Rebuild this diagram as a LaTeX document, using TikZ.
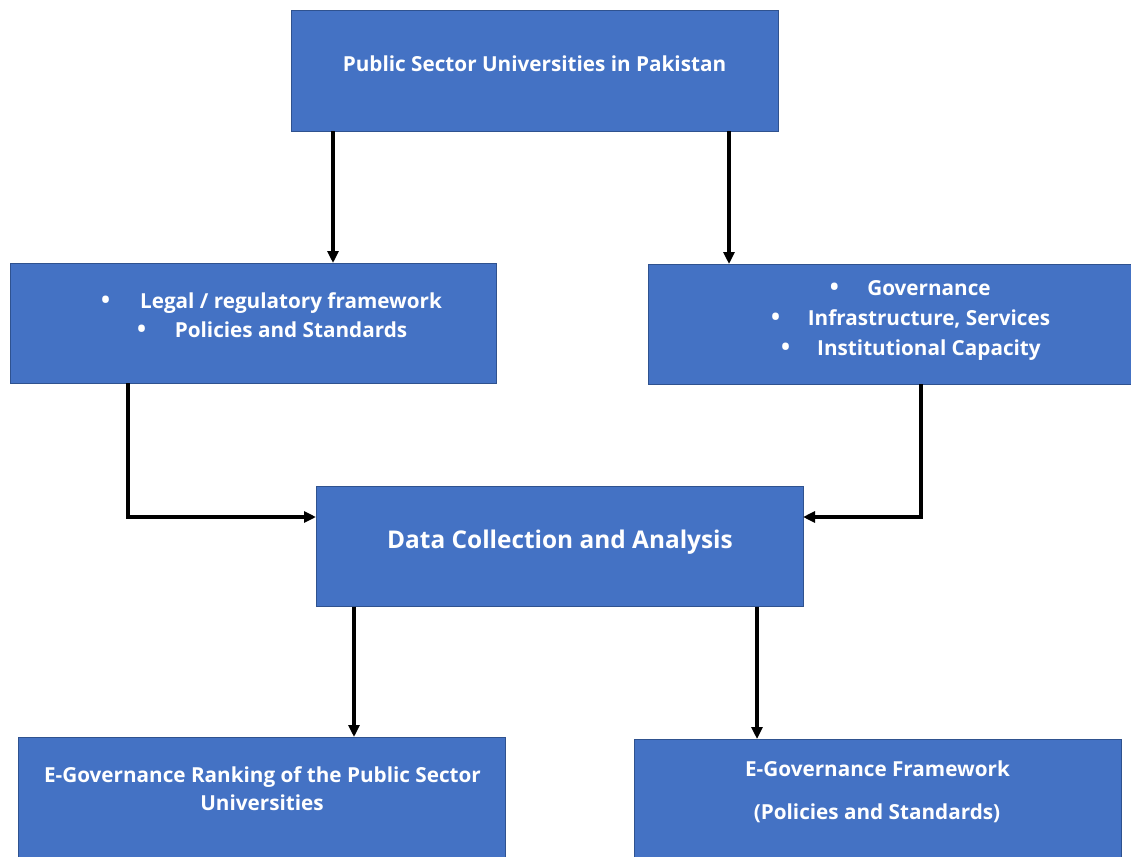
\documentclass[tikz,border=0pt]{standalone}
\usepackage{fontspec}
\setmainfont{Open Sans}
\usetikzlibrary{arrows.meta}
\definecolor{boxfill}{HTML}{4472C4}
\definecolor{boxline}{HTML}{2F528F}
\begin{document}
\begin{tikzpicture}[x=1pt,y=-1pt,
  box/.style={draw=boxline, line width=1pt, fill=boxfill, inner sep=0pt, outer sep=0pt},
  txt/.style={text=white, font=\bfseries\fontsize{20.7}{25}\selectfont, inner sep=0pt, anchor=base},
  bul/.style={txt, font=\bfseries\fontsize{24}{28}\selectfont},
  bigtxt/.style={txt, font=\bfseries\fontsize{24.4}{29}\selectfont},
  arr/.style={line width=3.1pt, -{Triangle[length=12pt,width=11pt]}}
]
\useasboundingbox (0,0) rectangle (1131,856);
% boxes
\node[box, minimum width=487pt, minimum height=120pt] (top) at (534.5,71) {};
\node[box, minimum width=486pt, minimum height=120pt] (lm) at (253,323) {};
\node[box, minimum width=486pt, minimum height=120pt] (rm) at (891,324) {};
\node[box, minimum width=487pt, minimum height=120pt] (data) at (559.5,546.5) {};
\node[box, minimum width=487pt, minimum height=140pt] (bl) at (262,807) {};
\node[box, minimum width=487pt, minimum height=140pt] (br) at (877.5,809) {};
% texts
\node[txt] (t1) at (534.5,71.5) {Public Sector Universities in Pakistan};
\node[bul] (b1) at (105.7,308.3) {•};
\node[txt] (t2) at (291,308.3) {Legal / regulatory framework};
\node[bul] (b2) at (141.7,337.3) {•};
\node[txt] (t3) at (291,337.3) {Policies and Standards};
\node[bul] (b3) at (834.3,295) {•};
\node[txt] (t4) at (929,295) {Governance};
\node[bul] (b4) at (775.7,325) {•};
\node[txt] (t5) at (929,325) {Infrastructure, Services};
\node[bul] (b5) at (785.7,355) {•};
\node[txt] (t6) at (929,355) {Institutional Capacity};
\node[bigtxt] (t7) at (560,548.3) {Data Collection and Analysis};
\node[txt] (t8) at (262.5,782.7) {E-Governance Ranking of the Public Sector};
\node[txt] (t9) at (262,810.5) {Universities};
\node[txt] (t10) at (877.5,776) {E-Governance Framework};
\node[txt] (t11) at (877,819.5) {(Policies and Standards)};
% connector helpers
\coordinate (x1) at (333,0);
\coordinate (x2) at (729,0);
\coordinate (x3) at (128,0);
\coordinate (x4) at (921,0);
\coordinate (x5) at (354,0);
\coordinate (x6) at (757,0);
\coordinate (y1) at (0,517);
% connectors
\draw[arr] (top.south -| x1) -- (lm.north -| x1);
\draw[arr] (top.south -| x2) -- (rm.north -| x2);
\draw[arr] (lm.south -| x3) |- (data.west |- y1);
\draw[arr] (rm.south -| x4) |- (data.east |- y1);
\draw[arr] (data.south -| x5) -- (bl.north -| x5);
\draw[arr] (data.south -| x6) -- (br.north -| x6);
\end{tikzpicture}
\end{document}
